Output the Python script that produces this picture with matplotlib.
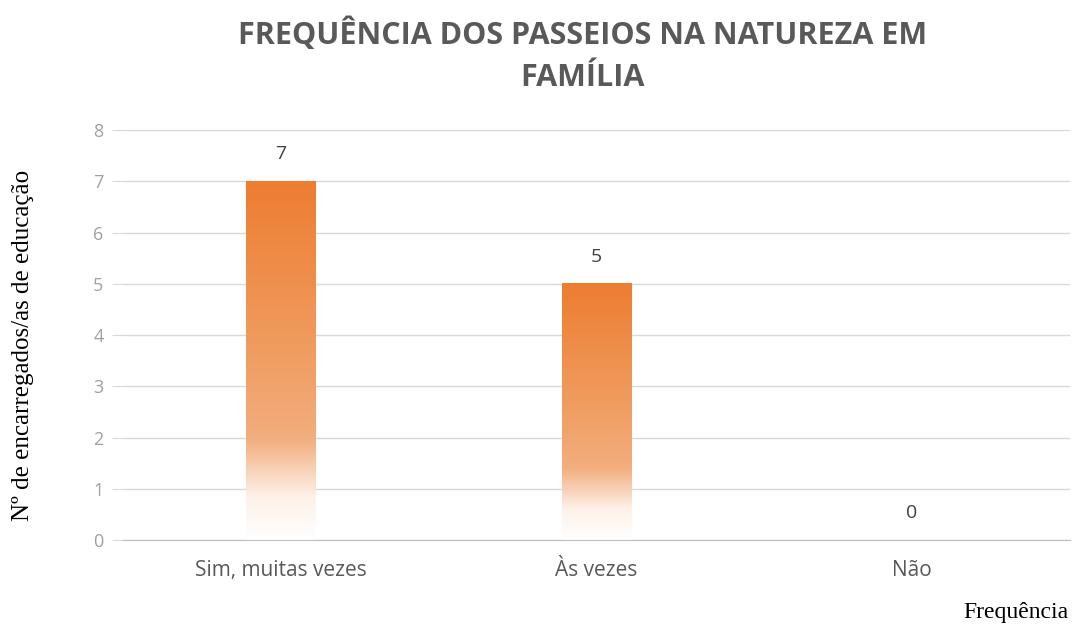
import numpy as np
import matplotlib.pyplot as plt
from matplotlib.colors import LinearSegmentedColormap

categorias = ['Sim, muitas vezes', 'Às vezes', 'Não']
valores = [7, 5, 0]
y_ticks = [0, 1, 2, 3, 4, 5, 6, 7, 8]

titulo = 'FREQUÊNCIA DOS PASSEIOS NA NATUREZA EM\nFAMÍLIA'
y_rotulo = 'Nº de encarregados/as de educação'
x_rotulo = 'Frequência'

fig = plt.figure(figsize=(10.72, 6.28), dpi=100)
ax = fig.add_axes([0.1147, 0.140, 0.883, 0.653])

# gradiente laranja -> branco (topo escuro, base branca)
cmap = LinearSegmentedColormap.from_list('grad', [
    (0.0, '#FFFFFF'),
    (0.12, '#FDF1E8'),
    (0.28, '#F2AE7E'),
    (0.55, '#F09B5E'),
    (1.0, '#ED7D31'),
])
grad = np.linspace(0, 1, 256).reshape(-1, 1)

largura = 0.22
x = np.arange(len(categorias))

for xi, v in zip(x, valores):
    if v > 0:
        ax.imshow(grad, cmap=cmap, origin='lower', aspect='auto',
                  extent=(xi - largura / 2, xi + largura / 2, 0, v), zorder=2)
    ax.text(xi, v + 0.35, str(v), ha='center', va='bottom',
            fontsize=14, color='#404040', family='Open Sans')

ax.set_xlim(-0.5, 2.5)
ax.set_ylim(0, 8)

ax.set_yticks(y_ticks)
ax.yaxis.grid(True, color='#D9D9D9', linewidth=1)
ax.set_axisbelow(True)
ax.tick_params(axis='y', length=8, color='#D9D9D9', labelcolor='#A0A0A0',
               labelsize=13, pad=6)
ax.set_xticks(x)
ax.set_xticklabels(categorias, fontsize=15, color='#595959', family='Open Sans')
ax.tick_params(axis='x', length=0, pad=14)
for lbl in ax.get_yticklabels():
    lbl.set_family('Open Sans')

for s in ['top', 'right', 'left']:
    ax.spines[s].set_visible(False)
ax.spines['bottom'].set_color('#BFBFBF')

fig.text(0.5435, 0.912, titulo, ha='center', va='center', fontsize=22,
         fontweight='bold', color='#595959', family='Open Sans',
         linespacing=1.55)

fig.text(0.021, 0.45, y_rotulo, rotation=90, ha='center', va='center',
         fontsize=18, family='Liberation Serif', color='#000000')
fig.text(0.997, 0.025, x_rotulo, ha='right', va='center',
         fontsize=17, family='Liberation Serif', color='#000000')

fig.savefig('out.png', dpi=100)
